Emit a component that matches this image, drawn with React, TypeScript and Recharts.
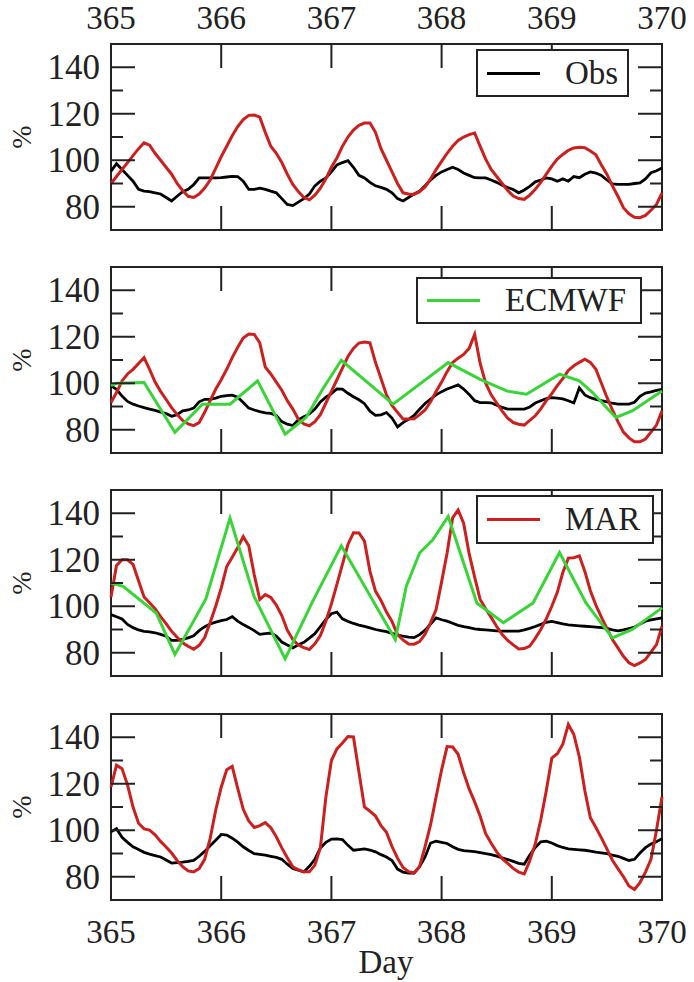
import React from "react";
import { LineChart, Line, XAxis, YAxis, ReferenceArea } from "recharts";

// time grid, every 0.05 day
const DAYS = Array.from({ length: 101 }, (_, i) => Math.round((365 + i * 0.05) * 100) / 100);
const X_TICKS = [365, 366, 367, 368, 369, 370];
const Y_TICKS = [80, 90, 100, 110, 120, 130, 140];

// panel 1
const P1_OBS = [
  95.3, 98.5, 96, 93.5, 91, 87.5, 86.7, 86.5, 86, 85.5,
  84, 82.5, 84.5, 86.5, 87.5, 89.5, 92.4, 92.4, 92.4, 92.4,
  92.5, 92.8, 93.1, 93, 91, 87.5, 87.5, 88, 87.5, 86.7,
  86, 83.5, 81, 80.5, 82, 83.5, 85.5, 89, 91, 92.4,
  95, 98, 99, 99.8, 97, 93.5, 92.4, 90.5, 89, 88.3,
  87.5, 86, 83.5, 82.5, 84, 85.5, 86.7, 89, 91.5, 93.5,
  95, 96, 97, 96, 94.5, 93.5, 92.5, 92.4, 92.4, 91.5,
  90.5, 89.3, 88.3, 87.4, 86, 87.2, 88.8, 90.7, 91.5, 92.4,
  92, 91, 92, 91, 93, 92.5, 94, 95, 94.5, 93.5,
  91.5, 89.8, 89.6, 89.6, 89.6, 90, 90.3, 92, 94.6, 95.5,
  96.7,
];
const P1_MODEL = [
  90, 93, 96, 99, 102, 105, 107.5, 106.5, 103, 100,
  97, 94, 90, 87, 84.5, 84, 85.5, 88, 91.5, 96.5,
  101.5, 106, 110.5, 114.5, 117.5, 119.3, 119.5, 118.5, 112, 106,
  103, 99, 94, 89.6, 86.5, 84, 83, 85, 88, 92,
  97, 101, 106, 110, 113, 115, 116, 116, 112, 105,
  100, 95, 90, 86, 85.5, 85.3, 86.5, 88.5, 92, 96,
  99.5, 103, 106, 108.5, 110, 111, 111.7, 106, 100.5, 96,
  93, 90, 87, 84.6, 83.5, 83.2, 85, 87.5, 90.5, 94,
  97.5, 100.5, 102.5, 104.3, 105.3, 105.6, 105.4, 104, 102.4, 98,
  94, 89, 84.5, 79.6, 77, 75.5, 75.3, 76.3, 78.5, 81,
  86,
];

// panel 2
const P2_OBS = [
  98.9, 97.4, 94.5, 92.2, 91, 90.2, 89.5, 88.9, 88.3, 87.6,
  87, 85.8, 86.5, 88.1, 88.5, 89.3, 92, 93.1, 93.1, 93.6,
  94.4, 94.7, 94.9, 94, 91.7, 89.3, 88.5, 87.8, 87.3, 87,
  86.2, 83.5, 82.4, 81.8, 84.2, 85.6, 86.8, 88.9, 92, 94,
  95.5, 97.6, 97.5, 95.7, 94.2, 92.9, 91.2, 88, 86.2, 86.4,
  87.4, 85, 81.2, 83.1, 84.5, 86.2, 88.8, 91.3, 93.2, 95,
  96.4, 97.5, 98.4, 99.3, 97.5, 95.2, 92.5, 91.7, 91.7, 91.6,
  90.6, 89.6, 88.9, 88.9, 88.9, 88.9, 89.8, 91.5, 92.5, 93.4,
  93.8, 93.6, 93.3, 92.5, 91.5, 98, 95, 93.8, 93.1, 92.5,
  92, 91.4, 91, 91, 91, 91.8, 94.4, 95.8, 96.3, 96.9,
  97.4,
];
const P2_MODEL = [
  91.7, 96, 101, 104, 106, 108.5, 111, 106, 100.5, 96.5,
  93, 89.5, 86.5, 84, 82.5, 81.8, 83.1, 87.5, 92.5, 97.4,
  101.5, 106, 111, 115.5, 119.5, 121.2, 121, 117.4, 107, 104,
  100.5, 97, 92.5, 88.9, 84.5, 82.5, 81.7, 83.5, 86.5, 91.5,
  96.5, 101.5, 106.5, 111.5, 115, 117.3, 117.7, 117.4, 109, 102,
  95, 90.5, 87.5, 84.6, 84.6, 84.7, 86.5, 88.5, 92, 96.5,
  100.5, 105, 108.9, 110.8, 112.4, 115, 121, 108.5, 100, 95,
  91.5, 88, 85, 83.1, 82.4, 82, 84, 86, 89, 92.5,
  95.5, 99, 102, 105.5, 107.5, 109, 110.3, 109, 106, 100,
  94, 88.5, 83.5, 79, 76.5, 74.8, 74.8, 76, 79, 82,
  88.1,
];
const ECMWF_DAYS = [
  365, 365.05, 365.3, 365.58, 365.83, 366.08, 366.33, 366.58, 366.77, 366.92, 367.09,
  367.56, 368.06, 368.35, 368.59, 368.77, 369.07, 369.25, 369.37, 369.58, 369.73, 370,
];
const ECMWF_VALUES = [
  99, 100, 100.3, 78.9, 91, 91, 101, 78.1, 85.3, 97.4, 109.9,
  91, 108.9, 101.7, 96.7, 95.3, 103.9, 101, 96, 85.3, 88.1, 96.7,
];

// panel 3
const P3_OBS = [
  96.4, 95.5, 94.5, 92.2, 90.8, 89.8, 89.2, 89, 88.6, 87.9,
  87.1, 85.3, 85.3, 85.7, 86.4, 87.3, 89.5, 91.2, 92.4, 93.2,
  93.8, 94.3, 95.5, 93.6, 92.1, 90.9, 89.5, 87.9, 88.2, 88.5,
  87.2, 84.6, 83.3, 82.1, 83.4, 84.5, 86.3, 88.2, 91.3, 94.3,
  96.8, 97.5, 94.6, 93.5, 92.6, 91.9, 91.3, 90.7, 90, 89.5,
  89.1, 88.3, 87.7, 87.1, 86.7, 86.5, 87.8, 89.7, 92.3, 95,
  94.2, 93.6, 92.7, 91.8, 91.2, 90.8, 90.3, 90, 89.8, 89.6,
  89.4, 89.3, 89.3, 89.3, 89.3, 89.8, 90.5, 91.3, 92.2, 93.1,
  93.5, 93, 92.4, 92, 91.8, 91.6, 91.4, 91.2, 91, 90.8,
  90.5, 89.8, 89.4, 89.8, 90.4, 91, 92.4, 93.6, 94.1, 94.6,
  95,
];
const P3_MAR = [
  104, 117.5, 120, 120, 118, 111, 104, 101.5, 99, 95.5,
  92.5, 89.2, 86.7, 84.3, 82.8, 81.5, 83.2, 86.5, 93, 100,
  107.8, 117.1, 121.1, 125.3, 130, 126, 113.5, 102.9, 105, 103.8,
  100.5, 96, 89.7, 85.7, 83.3, 82.2, 81.4, 83.8, 87.4, 93.6,
  101, 109.4, 118, 126.6, 131.6, 131.5, 128, 115, 106.5, 102.5,
  97.5, 93.5, 87.8, 85.5, 83.8, 83.7, 84.8, 88, 93, 98.6,
  110.5, 122.9, 138, 141.4, 135.7, 122.6, 112.5, 102.9, 98.9, 95.2,
  91.3, 87.8, 85.3, 83.4, 81.6, 81.8, 82.9, 86.2, 90, 94.6,
  100, 106, 114.5, 120.7, 120.9, 121.7, 115, 106.7, 100.5, 95.3,
  90.5, 85.7, 82.1, 78.5, 75.7, 74.5, 75.6, 77.1, 80.3, 83.5,
  91.4,
];
const P3_GREEN_DAYS = [
  365, 365.11, 365.41, 365.58, 365.86, 366.08, 366.3, 366.58, 366.83, 367.09, 367.58,
  367.68, 367.8, 367.92, 368.06, 368.32, 368.56, 368.83, 369.07, 369.31, 369.55, 369.73, 370,
];
const P3_GREEN_VALUES = [
  110, 108.6, 97.1, 79.3, 103, 137.9, 104, 77.4, 102.1, 126, 85.7,
  108.6, 122.9, 128.6, 138.6, 101.4, 92.9, 101.4, 123.1, 101.4, 86.4, 90, 99.3,
];

// panel 4
const P4_OBS = [
  99.3, 100.7, 97, 94.8, 92.9, 91.7, 90.5, 89.7, 89.1, 88.5,
  87.2, 85.9, 86.1, 86.3, 86.6, 87, 88.8, 90.9, 93.3, 95.7,
  98.2, 97.9, 96.6, 94.9, 92.9, 91.3, 89.9, 89.6, 89.3, 88.8,
  88.3, 87.5, 85.4, 83.6, 82.8, 82.1, 84.5, 87.5, 92.4, 94.8,
  96.2, 96.3, 96, 93.5, 91.4, 91.7, 92, 91.5, 90.7, 89.5,
  88.5, 87, 83.3, 82, 81.6, 81.6, 84.3, 88.5, 94.5, 95.3,
  94.8, 94.3, 92.9, 91.8, 91.2, 91, 90.8, 90.4, 89.9, 89.5,
  88.9, 88.1, 87.4, 86.6, 85.8, 85.4, 89.3, 92.6, 95, 95.3,
  94.5, 93.4, 92.6, 92, 91.8, 91.6, 91.4, 91, 90.6, 90.3,
  89.9, 89.3, 88.8, 87.9, 87, 87.5, 90.2, 92.5, 94.1, 95.1,
  96.4,
];
const P4_MODEL = [
  118.6, 128, 126.5, 119.5, 110, 103, 100.6, 100.1, 98, 95.2,
  92.8, 90.2, 87, 84.3, 82.5, 82.1, 83.5, 87.5, 96.5, 108.6,
  118.5, 126, 127.5, 118, 109, 104, 101.2, 102, 103.3, 101.1,
  97.2, 92.4, 88.2, 84.3, 83, 82.1, 82.1, 85, 92.5, 114.3,
  130, 135, 137.5, 140.3, 140.1, 125, 110, 108.2, 106.1, 102,
  99.1, 93, 88, 84, 82.2, 81.6, 84.3, 93, 102.4, 114.3,
  126, 136, 135.8, 132.7, 124.7, 117.8, 112.2, 106, 98.5, 94.4,
  90.7, 87.8, 85.7, 83.6, 82, 81.2, 86.9, 94.1, 104.5, 117,
  131, 132.9, 137, 145.5, 141.2, 131.5, 117, 105.4, 101.2, 96.7,
  92, 87.1, 83.5, 80, 76, 74.5, 77.5, 82, 87.5, 100,
  114.3,
];

const RED = "#cc1f1f";
const GREEN = "#38d438";
const INK = "#222";
const FONT = '"Liberation Serif", "Times New Roman", serif';

const PLOT_LEFT = 111;
const PLOT_RIGHT = 662;
const PLOT_TOP = 44;
const PLOT_H = 186;
const PLOT_BOTTOM = PLOT_TOP + PLOT_H;

type GridSeries = { name: string; color: string; values: number[] };
type VertexSeries = { name: string; color: string; days: number[]; values: number[] };

type PanelProps = {
  top: number;
  height: number;
  axisHeight: number;
  bottomMargin: number;
  xLabels?: "top" | "bottom";
  grid: GridSeries[];
  vertex?: VertexSeries;
};

const Panel = ({ top, height, axisHeight, bottomMargin, xLabels, grid, vertex }: PanelProps) => {
  const rows = DAYS.map((d, i) => {
    const r: Record<string, number> = { day: d };
    grid.forEach((s) => (r[s.name] = s.values[i]));
    return r;
  });
  const vertexRows = vertex
    ? vertex.days.map((d, i) => ({ day: d, [vertex.name]: vertex.values[i] }))
    : [];

  const renderX = (p: any) => {
    const v = p.payload.value;
    const x = p.x;
    const inner = v !== 365 && v !== 370;
    return (
      <g>
        {inner && <line x1={x} x2={x} y1={PLOT_TOP} y2={PLOT_TOP + 24} stroke={INK} strokeWidth={2} />}
        {inner && <line x1={x} x2={x} y1={PLOT_BOTTOM} y2={PLOT_BOTTOM - 24} stroke={INK} strokeWidth={2} />}
        {xLabels === "top" && (
          <text x={x} y={29} textAnchor="middle" fontFamily={FONT} fontSize={33} fill={INK}>{v}</text>
        )}
        {xLabels === "bottom" && (
          <text x={x} y={PLOT_BOTTOM + 43} textAnchor="middle" fontFamily={FONT} fontSize={33} fill={INK}>{v}</text>
        )}
      </g>
    );
  };

  const renderY = (p: any) => {
    const v = p.payload.value;
    const y = p.y;
    const major = v % 20 === 0;
    const len = major ? 24 : 12;
    return (
      <g>
        <line x1={PLOT_LEFT} x2={PLOT_LEFT + len} y1={y} y2={y} stroke={INK} strokeWidth={2} />
        <line x1={PLOT_RIGHT} x2={PLOT_RIGHT - len} y1={y} y2={y} stroke={INK} strokeWidth={2} />
        {major && (
          <text x={100} y={y + 12} textAnchor="end" fontFamily={FONT} fontSize={35} fill={INK}>{v}</text>
        )}
      </g>
    );
  };

  return (
    <div style={{ position: "absolute", left: 0, top }}>
      <LineChart
        width={694}
        height={height}
        data={rows}
        margin={{ top: PLOT_TOP, right: 694 - PLOT_RIGHT, left: PLOT_LEFT - 60, bottom: bottomMargin }}
      >
        <XAxis
          dataKey="day"
          type="number"
          domain={[365, 370]}
          ticks={X_TICKS}
          interval={0}
          height={axisHeight}
          axisLine={false}
          tickLine={false}
          tick={renderX}
        />
        <YAxis
          type="number"
          domain={[70, 150]}
          ticks={Y_TICKS}
          interval={0}
          width={60}
          axisLine={false}
          tickLine={false}
          tick={renderY}
        />
        <ReferenceArea x1={365} x2={370} y1={70} y2={150} fill="none" fillOpacity={0} stroke={INK} strokeWidth={2} />
        {grid.map((s) => (
          <Line
            key={s.name}
            dataKey={s.name}
            type="linear"
            stroke={s.color}
            strokeWidth={s.color === RED ? 3 : 2.8}
            dot={false}
            activeDot={false}
            isAnimationActive={false}
          />
        ))}
        {vertex && (
          <Line
            data={vertexRows}
            dataKey={vertex.name}
            type="linear"
            stroke={vertex.color}
            strokeWidth={3}
            dot={false}
            activeDot={false}
            isAnimationActive={false}
          />
        )}
      </LineChart>
    </div>
  );
};

const LegendBox = ({ left, top, width, height, color, label }: any) => (
  <div
    style={{
      position: "absolute",
      left,
      top,
      width,
      height,
      boxSizing: "border-box",
      border: `2px solid ${INK}`,
      background: "#fff",
      display: "flex",
      alignItems: "center",
      paddingLeft: 9,
    }}
  >
    <div style={{ width: 53, height: 3, background: color, marginRight: 25 }} />
    <span style={{ fontFamily: FONT, fontSize: 33, lineHeight: 1, color: INK }}>{label}</span>
  </div>
);

const Percent = ({ cy }: { cy: number }) => (
  <div
    style={{
      position: "absolute",
      left: 22,
      top: cy,
      transform: "translate(-50%, -50%) rotate(-90deg)",
      fontFamily: FONT,
      fontSize: 28,
      lineHeight: 1,
      color: INK,
    }}
  >
    %
  </div>
);

export default function App() {
  return (
    <div style={{ position: "absolute", left: 0, top: 0, width: 694, height: 982, background: "#fff" }}>
      <Panel
        top={0}
        height={250}
        axisHeight={20}
        bottomMargin={0}
        xLabels="top"
        grid={[
          { name: "obs", color: "#000", values: P1_OBS },
          { name: "model", color: RED, values: P1_MODEL },
        ]}
      />
      <Panel
        top={223}
        height={250}
        axisHeight={20}
        bottomMargin={0}
        grid={[
          { name: "obs", color: "#000", values: P2_OBS },
          { name: "model", color: RED, values: P2_MODEL },
        ]}
        vertex={{ name: "ecmwf", color: GREEN, days: ECMWF_DAYS, values: ECMWF_VALUES }}
      />
      <Panel
        top={446}
        height={250}
        axisHeight={20}
        bottomMargin={0}
        grid={[
          { name: "obs", color: "#000", values: P3_OBS },
          { name: "mar", color: RED, values: P3_MAR },
        ]}
        vertex={{ name: "green", color: GREEN, days: P3_GREEN_DAYS, values: P3_GREEN_VALUES }}
      />
      <Panel
        top={670}
        height={312}
        axisHeight={30}
        bottomMargin={52}
        xLabels="bottom"
        grid={[
          { name: "obs", color: "#000", values: P4_OBS },
          { name: "model", color: RED, values: P4_MODEL },
        ]}
      />

      <LegendBox left={476} top={49} width={153} height={48} color="#000" label="Obs" />
      <LegendBox left={416} top={277} width={226} height={47} color={GREEN} label="ECMWF" />
      <LegendBox left={476} top={495} width={178} height={49} color={RED} label="MAR" />

      <Percent cy={137} />
      <Percent cy={360} />
      <Percent cy={583} />
      <Percent cy={807} />

      <div
        style={{
          position: "absolute",
          left: 386,
          top: 946,
          transform: "translateX(-50%)",
          fontFamily: FONT,
          fontSize: 33,
          lineHeight: 1,
          color: INK,
        }}
      >
        Day
      </div>
    </div>
  );
}
